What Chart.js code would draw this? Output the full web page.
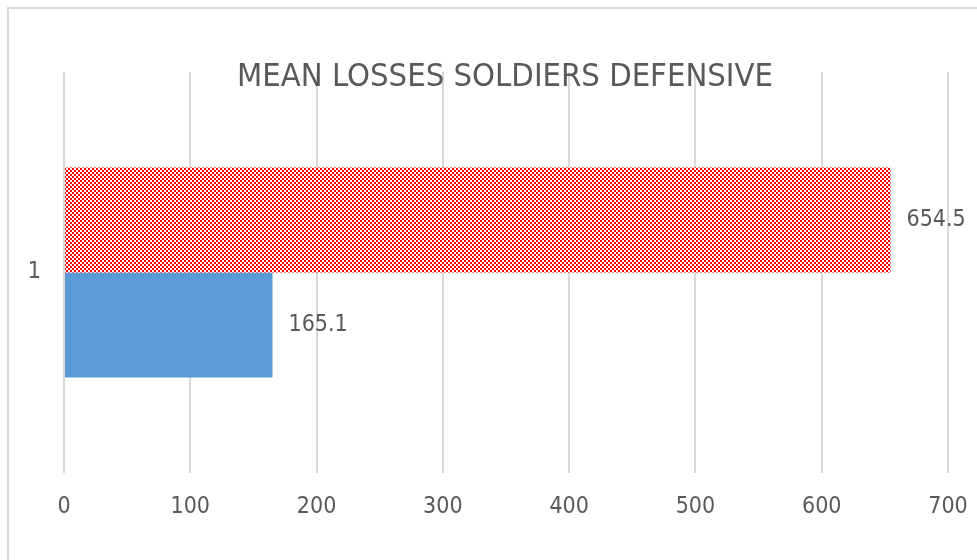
<!DOCTYPE html>
<html>
<head>
<meta charset="utf-8">
<script src="https://cdn.jsdelivr.net/npm/chart.js@4/dist/chart.umd.min.js"></script>
<style>
  html, body { margin: 0; padding: 0; background: #ffffff; }
  #wrap { width: 977px; height: 560px; position: relative; }
</style>
</head>
<body>
<div id="wrap"><canvas id="lossesChart"></canvas></div>
<script>
// =========================================
// Data
// =========================================
const categories = ["1"];
const series1Values = [165.1]; // blue, bottom bar
const series2Values = [654.5]; // red checkered, top bar
const xTicks = [0, 100, 200, 300, 400, 500, 600, 700];
const chartTitle = "MEAN LOSSES SOLDIERS DEFENSIVE";

const TEXT_COLOR = "#595959";
const GRID_COLOR = "#d9d9d9";
const FONT = "'Liberation Sans Narrow', 'DejaVu Sans Condensed', 'Liberation Sans', sans-serif";

// red / white checkerboard fill (2px squares)
function makeChecker() {
    const c = document.createElement("canvas");
    c.width = 4;
    c.height = 4;
    const g = c.getContext("2d");
    g.fillStyle = "#ffffff";
    g.fillRect(0, 0, 4, 4);
    g.fillStyle = "#ff0000";
    g.fillRect(0, 0, 2, 2);
    g.fillRect(2, 2, 2, 2);
    return g.createPattern(c, "repeat");
}

// outer frame, title and value labels
const decorPlugin = {
    id: "decor",
    beforeDraw(chart) {
        const ctx = chart.ctx;
        ctx.save();
        ctx.strokeStyle = GRID_COLOR;
        ctx.lineWidth = 2;
        ctx.beginPath();
        ctx.moveTo(8, 560);
        ctx.lineTo(8, 8);
        ctx.lineTo(977, 8);
        ctx.stroke();
        ctx.restore();
    },
    afterDatasetsDraw(chart) {
        const ctx = chart.ctx;
        ctx.save();
        ctx.font = "23px " + FONT;
        ctx.fillStyle = TEXT_COLOR;
        ctx.textAlign = "left";
        ctx.textBaseline = "middle";
        chart.data.datasets.forEach((ds, i) => {
            chart.getDatasetMeta(i).data.forEach((bar, j) => {
                ctx.fillText(String(ds.data[j]), bar.x + 16, bar.y);
            });
        });
        ctx.restore();
    },
    afterDraw(chart) {
        const ctx = chart.ctx;
        ctx.save();
        ctx.font = "32.5px " + FONT;
        ctx.fillStyle = TEXT_COLOR;
        ctx.textAlign = "center";
        ctx.textBaseline = "middle";
        ctx.fillText(chartTitle, 505, 78);
        ctx.restore();
    },
};

new Chart(document.getElementById("lossesChart"), {
    type: "bar",
    data: {
        labels: categories,
        datasets: [
            {
                label: "Series2",
                data: series2Values,
                backgroundColor: makeChecker(),
                borderWidth: 0,
            },
            {
                label: "Series1",
                data: series1Values,
                backgroundColor: "#5b9bd5",
                borderWidth: 0,
            },
        ],
    },
    options: {
        indexAxis: "y",
        responsive: true,
        maintainAspectRatio: false,
        animation: false,
        datasets: {
            bar: {
                categoryPercentage: 0.524,
                barPercentage: 1.0,
            },
        },
        layout: {
            padding: { top: 72, right: 29, bottom: 0, left: 0 },
        },
        scales: {
            x: {
                min: xTicks[0],
                max: xTicks[xTicks.length - 1],
                afterBuildTicks: (scale) => {
                    scale.ticks = xTicks.map((v) => ({ value: v }));
                },
                afterFit: (scale) => {
                    scale.height = 87;
                    scale.paddingLeft = 0;
                    scale.paddingRight = 0;
                },
                grid: {
                    color: GRID_COLOR,
                    lineWidth: 2,
                    drawTicks: false,
                },
                border: { display: false },
                ticks: {
                    padding: 20,
                    color: TEXT_COLOR,
                    font: { family: FONT, size: 23 },
                    maxRotation: 0,
                },
            },
            y: {
                afterFit: (scale) => {
                    scale.width = 64;
                    scale.paddingTop = 0;
                    scale.paddingBottom = 0;
                },
                grid: { display: false, drawTicks: false },
                border: { display: false },
                ticks: {
                    padding: 23,
                    color: TEXT_COLOR,
                    font: { family: FONT, size: 23 },
                },
            },
        },
        plugins: {
            legend: { display: false },
            title: { display: false },
            tooltip: { enabled: false },
        },
    },
    plugins: [decorPlugin],
});
</script>
</body>
</html>
